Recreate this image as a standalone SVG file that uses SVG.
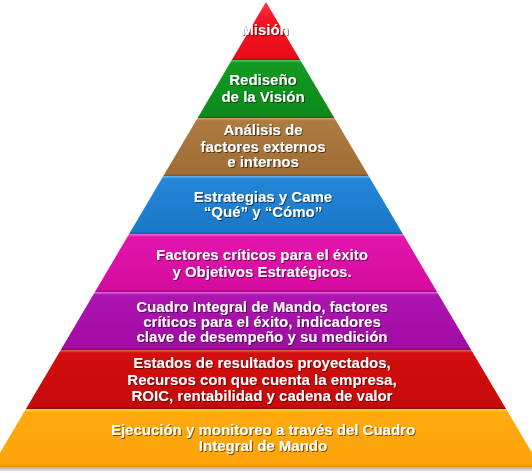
<svg xmlns="http://www.w3.org/2000/svg" width="532" height="473" viewBox="0 0 532 473">
<style>
.t{font-family:"Liberation Sans",Arial,sans-serif;font-weight:bold;font-size:15px;fill:#fff;text-anchor:middle;filter:url(#sh)}
</style>
<defs>
<filter id="sh" x="-10%" y="-30%" width="120%" height="160%">
<feDropShadow dx="1" dy="1" stdDeviation="0.6" flood-color="#000" flood-opacity="0.55"/>
</filter>
<linearGradient id="gRed" x1="0" y1="0" x2="0" y2="1"><stop offset="0" stop-color="#ff3a3a"/><stop offset="0.3" stop-color="#f41420"/><stop offset="0.96" stop-color="#e80c18"/><stop offset="1" stop-color="#b80010"/></linearGradient>
<linearGradient id="gGreen" x1="0" y1="0" x2="0" y2="1"><stop offset="0" stop-color="#5cc25a"/><stop offset="0.05" stop-color="#139a22"/><stop offset="0.96" stop-color="#0c8a1a"/><stop offset="1" stop-color="#066812"/></linearGradient>
<linearGradient id="gBrown" x1="0" y1="0" x2="0" y2="1"><stop offset="0" stop-color="#d4a06a"/><stop offset="0.05" stop-color="#ad7a40"/><stop offset="0.96" stop-color="#a06d36"/><stop offset="1" stop-color="#7a5024"/></linearGradient>
<linearGradient id="gBlue" x1="0" y1="0" x2="0" y2="1"><stop offset="0" stop-color="#6ab8f0"/><stop offset="0.05" stop-color="#2486d8"/><stop offset="0.96" stop-color="#1a78c8"/><stop offset="1" stop-color="#0e5a9a"/></linearGradient>
<linearGradient id="gMag" x1="0" y1="0" x2="0" y2="1"><stop offset="0" stop-color="#f070d0"/><stop offset="0.05" stop-color="#e214ac"/><stop offset="0.96" stop-color="#d40c9e"/><stop offset="1" stop-color="#a0067a"/></linearGradient>
<linearGradient id="gPur" x1="0" y1="0" x2="0" y2="1"><stop offset="0" stop-color="#e070e8"/><stop offset="0.05" stop-color="#ae14b0"/><stop offset="0.96" stop-color="#a00ca4"/><stop offset="1" stop-color="#780480"/></linearGradient>
<linearGradient id="gRed2" x1="0" y1="0" x2="0" y2="1"><stop offset="0" stop-color="#f06060"/><stop offset="0.05" stop-color="#d20e0e"/><stop offset="0.96" stop-color="#c60a0a"/><stop offset="1" stop-color="#940404"/></linearGradient>
<linearGradient id="gOr" x1="0" y1="0" x2="0" y2="1"><stop offset="0" stop-color="#ffe040"/><stop offset="0.05" stop-color="#ffaa10"/><stop offset="0.95" stop-color="#fda40a"/><stop offset="1" stop-color="#e08c00"/></linearGradient>
<linearGradient id="gBase" x1="0" y1="0" x2="0" y2="1"><stop offset="0" stop-color="#b0b0b0"/><stop offset="1" stop-color="#e4e4e4"/></linearGradient>
</defs>
<rect width="532" height="473" fill="#fff"/>
<g id="connectors"/>
<rect id="base" x="0" y="467" width="532" height="4" fill="url(#gBase)"/>
<g id="n8"><polygon points="25.9,409 506.1,409 540.4,467 -8.4,467" fill="url(#gOr)"/>
<text class="t" x="263" y="435">Ejecución y monitoreo a través del Cuadro</text>
<text class="t" x="263" y="451">Integral de Mando</text></g>
<g id="n7"><polygon points="60.7,350 471.3,350 506.1,409 25.9,409" fill="url(#gRed2)"/>
<text class="t" x="262" y="368">Estados de resultados proyectados,</text>
<text class="t" x="262" y="385">Recursos con que cuenta la empresa,</text>
<text class="t" x="262" y="401">ROIC, rentabilidad y cadena de valor</text></g>
<g id="n6"><polygon points="94.9,292 437.1,292 471.3,350 60.7,350" fill="url(#gPur)"/>
<text class="t" x="262" y="312">Cuadro Integral de Mando, factores</text>
<text class="t" x="262" y="327">críticos para el éxito, indicadores</text>
<text class="t" x="262" y="342">clave de desempeño  y su medición</text></g>
<g id="n5"><polygon points="129.1,234 402.9,234 437.1,292 94.9,292" fill="url(#gMag)"/>
<text class="t" x="262" y="260">Factores críticos para el éxito</text>
<text class="t" x="262" y="277">y Objetivos Estratégicos.</text></g>
<g id="n4"><polygon points="163.3,176 368.7,176 402.9,234 129.1,234" fill="url(#gBlue)"/>
<text class="t" x="263" y="202">Estrategias y Came</text>
<text class="t" x="263" y="217">“Qué” y “Cómo”</text></g>
<g id="n3"><polygon points="197.6,118 334.4,118 368.7,176 163.3,176" fill="url(#gBrown)"/>
<text class="t" x="263" y="135">Análisis de</text>
<text class="t" x="263" y="152">factores externos</text>
<text class="t" x="263" y="167">e internos</text></g>
<g id="n2"><polygon points="231.8,60 300.2,60 334.4,118 197.6,118" fill="url(#gGreen)"/>
<text class="t" x="263" y="85">Rediseño</text>
<text class="t" x="263" y="102">de la Visión</text></g>
<g id="n1"><polygon points="266,2 300.2,60 231.8,60" fill="url(#gRed)"/>
<text class="t" x="265" y="35">Misión</text></g>
</svg>
